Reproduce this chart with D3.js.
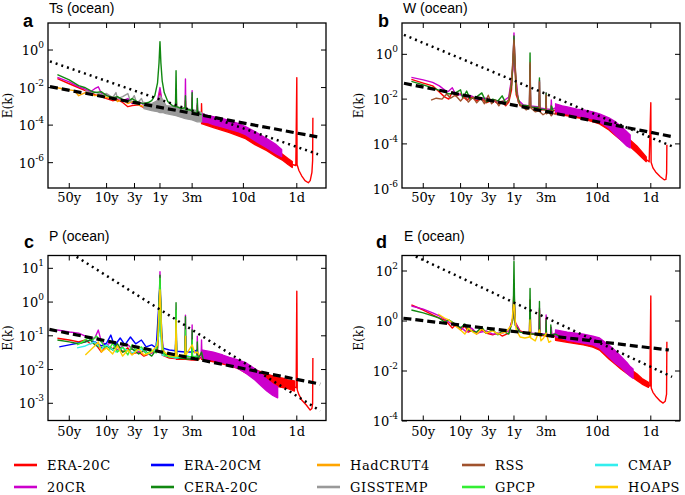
<!DOCTYPE html>
<html><head><meta charset="utf-8">
<script src="https://cdn.jsdelivr.net/npm/d3@7"></script>
<style>body{margin:0;background:#fff}svg{display:block}</style>
</head><body>
<svg id="chart" width="685" height="495"></svg>
<script>
// ---------- legend / datasets ----------
const legendNames  = ["ERA-20C","20CR","ERA-20CM","CERA-20C","HadCRUT4","GISSTEMP","RSS","GPCP","CMAP","HOAPS"];
const legendColors = ["#ff0000","#cc00cc","#0000ff","#118811","#ffa500","#999999","#a0522d","#33ee33","#33eeee","#ffcc00"];

// ---------- x axis (frequency, cycles per year) ----------
const xTickFreqs  = [0.02, 0.1, 0.3333, 1, 4, 36.5, 365];
const xTickLabels = ["50y","10y","3y","1y","3m","10d","1d"];

// ================= Panel a : Ts (ocean) =================
const aEra20c = [[0.012,3.0e-2],[0.02,1.6e-2],[0.03,9.8e-3],[0.04,6.9e-3],[0.05,5.4e-3],[0.06,4.2e-3],[0.08,3.3e-3],[0.1,2.6e-3],[0.13,2.0e-3],[0.16,2.3e-3],[0.2,1.6e-3],[0.25,9.6e-4],[0.3,1.1e-3],[0.4,1.2e-3],[0.5,8.5e-4],[0.7,9.6e-4],[0.9,1.2e-3],[1.0,6.9e-3],[1.1,9.6e-4],[1.5,6.6e-4],[1.95,6.0e-4],[2,5.4e-3],[2.05,5.9e-4],[2.95,5.2e-4],[3,2.0e-3],[3.05,5.2e-4],[3.95,4.6e-4],[4,2.9e-3],[4.05,4.1e-4],[4.95,3.6e-4],[5,1.1e-3],[5.05,3.2e-4],[5.95,2.9e-4],[6,1.4e-3],[6.1,2.5e-4]];
const aEra20cBand = [[6,1.2e-4,2.8e-4],[10,7.4e-5,1.74e-4],[20,4.0e-5,9.3e-5],[40,1.9e-5,4.5e-5],[60,9.1e-6,2.2e-5],[100,4.4e-6,1.05e-5],[150,2.1e-6,5.0e-6],[200,1.3e-6,2.7e-6],[250,7.9e-7,1.66e-6],[300,5.5e-7,1.15e-6]];
const aEra20cTail = [[300,8e-7],[350,7.1e-7],[365,3.4e-2],[369,7.9e-7],[400,3.8e-7],[450,2.0e-7],[520,1.1e-7],[600,8.5e-8],[650,1.1e-7],[700,3.0e-7],[722,1.3e-6],[730,2.5e-4]];
const aTwentyCR = [[0.012,3.5e-2],[0.02,2.0e-2],[0.03,1.1e-2],[0.04,8.2e-3],[0.05,6.0e-3],[0.06,8.7e-3],[0.07,1.1e-2],[0.08,4.8e-3],[0.1,4.2e-3],[0.13,2.6e-3],[0.16,2.9e-3],[0.2,2.0e-3],[0.25,2.6e-3],[0.3,1.4e-3],[0.4,1.8e-3],[0.5,1.2e-3],[0.6,1.1e-3],[0.8,1.2e-3],[0.9,2.0e-3],[1.0,1.0e-2],[1.1,1.6e-3],[1.3,8.5e-4],[1.95,7.6e-4],[2,8.7e-3],[2.05,6.6e-4],[2.95,6.6e-4],[3,2.9e-2],[3.05,5.2e-4],[3.95,4.6e-4],[4,6.9e-3],[4.05,4.1e-4],[4.95,3.6e-4],[5,1.4e-3],[5.1,3.2e-4],[6,2.8e-4]];
const aTwentyCRBand = [[6,1.5e-4,4.1e-4],[8,1.35e-4,3.2e-4],[10,1.07e-4,2.8e-4],[15,7.8e-5,2.2e-4],[20,6.2e-5,1.74e-4],[30,4.3e-5,1.2e-4],[40,3.1e-5,8.3e-5],[60,1.5e-5,4.5e-5],[80,9.1e-6,2.8e-5],[100,6.3e-6,1.9e-5],[150,3.0e-6,9.1e-6],[190,2.1e-6,5.0e-6]];
const aHadcrut4 = [[0.0095,1.1e-2],[0.015,8.7e-3],[0.025,6.9e-3],[0.03,3.7e-3],[0.04,5.4e-3],[0.05,4.8e-3],[0.06,3.7e-3],[0.08,4.2e-3],[0.1,2.9e-3],[0.13,3.3e-3],[0.16,1.8e-3],[0.2,2.3e-3],[0.25,1.4e-3],[0.3,1.8e-3],[0.4,1.2e-3],[0.5,9.6e-4],[0.6,1.4e-3],[0.7,8.5e-4],[0.9,9.6e-4],[1.0,2.6e-3],[1.1,8.5e-4],[1.5,6.6e-4],[2,9.6e-4],[2.5,5.2e-4],[3,7.6e-4],[4,5.2e-4]];
const aGisstemp = [[0.04,6.9e-3],[0.05,5.4e-3],[0.06,6.0e-3],[0.08,4.2e-3],[0.1,4.8e-3],[0.13,2.9e-3],[0.15,5.4e-3],[0.16,2.6e-3],[0.2,3.3e-3],[0.25,4.8e-3],[0.28,1.8e-3],[0.33,3.7e-3],[0.37,1.4e-3],[0.45,2.6e-3],[0.5,1.2e-3]];
const aGisstempBand = [[0.5,7.6e-4,1.6e-3],[0.7,5.9e-4,1.4e-3],[0.9,5.2e-4,2.0e-3],[1.0,4.6e-4,3.7e-3],[1.15,4.6e-4,2.0e-3],[1.3,4.1e-4,1.1e-3],[2,3.2e-4,9.6e-4],[3,2.2e-4,7.6e-4],[4,1.9e-4,6.6e-4],[5,1.5e-4,5.9e-4],[6,1.5e-4,4.6e-4]];
const aCera20c = [[0.012,4.9e-2],[0.02,2.6e-2],[0.03,1.26e-2],[0.04,9.8e-3],[0.05,6.9e-3],[0.06,5.4e-3],[0.08,6.0e-3],[0.1,3.7e-3],[0.13,2.9e-3],[0.16,3.3e-3],[0.2,2.3e-3],[0.25,1.8e-3],[0.3,2.6e-3],[0.4,1.6e-3],[0.5,1.4e-3],[0.6,1.6e-3],[0.7,2.0e-3],[0.8,3.7e-3],[0.9,1.8e-2],[0.96,0.21],[1.0,2.8],[1.04,0.21],[1.1,2.3e-2],[1.2,5.4e-3],[1.4,1.8e-3],[1.7,1.1e-3],[1.95,9.6e-4],[2,7.9e-2],[2.05,9.6e-4],[2.5,7.6e-4],[2.95,8.5e-4],[3,3.7e-3],[3.05,6.6e-4],[3.5,6.6e-4],[3.95,5.9e-4],[4,5.4e-3],[4.05,5.2e-4],[4.5,4.6e-4],[4.95,4.4e-4],[5,2.6e-3],[5.1,4.1e-4],[6,3.6e-4]];
const aFitDashed = [[0.0087,1.12e-2],[1000,2.2e-5]];
const aFitDotted = [[0.0087,0.248],[912,2.8e-6]];

// ================= Panel b : W (ocean) =================
const bEra20c = [[0.012,7.6e-2],[0.02,5.2e-2],[0.03,3.9e-2],[0.04,2.1e-2],[0.05,1.26e-2],[0.06,1.0e-2],[0.07,2.1e-2],[0.08,1.4e-2],[0.1,1.7e-2],[0.13,9.1e-3],[0.16,1.25e-2],[0.2,8.3e-3],[0.25,1.1e-2],[0.3,6.8e-3],[0.4,9.1e-3],[0.5,6.2e-3],[0.6,7.4e-3],[0.7,5.0e-3],[0.8,7.4e-3],[0.9,2.6e-2],[1.0,2.6],[1.1,1.55e-2],[1.3,5.0e-3],[1.6,4.5e-3],[1.95,4.5e-3],[2,0.12],[2.05,4.5e-3],[2.95,3.6e-3],[3,1.55e-2],[3.05,3.3e-3],[3.95,3.3e-3],[4,9.1e-3],[4.05,3.0e-3],[4.95,2.9e-3],[5,5.5e-3],[5.1,2.7e-3],[6,3.3e-3]];
const bEra20cBand = [[6,2.2e-3,4.1e-3],[10,1.8e-3,3.3e-3],[20,1.3e-3,2.4e-3],[40,7.8e-4,1.6e-3],[60,4.2e-4,9.6e-4],[80,2.3e-4,5.1e-4],[100,1.5e-4,3.5e-4],[150,7.4e-5,1.5e-4],[200,4.0e-5,8.1e-5],[250,2.4e-5,4.4e-5],[300,1.6e-5,2.6e-5]];
const bEra20cTail = [[300,2.0e-5],[340,1.6e-5],[365,6.9e-3],[370,1.5e-5],[400,8.5e-6],[450,5.6e-6],[550,3.4e-6],[650,2.5e-6],[700,2.6e-6],[722,5.0e-6],[730,9.1e-5]];
const bTwentyCR = [[0.012,9.3e-2],[0.02,7.2e-2],[0.03,5.6e-2],[0.04,3.9e-2],[0.05,2.6e-2],[0.055,2.1e-2],[0.06,2.3e-2],[0.07,3.2e-2],[0.08,1.7e-2],[0.1,1.55e-2],[0.13,1.25e-2],[0.16,1.4e-2],[0.2,1.0e-2],[0.3,1.1e-2],[0.4,8.3e-3],[0.6,7.4e-3],[0.8,1.25e-2],[0.95,0.2],[1.0,9.1],[1.05,0.2],[1.2,9.1e-3],[1.5,5.5e-3],[1.95,5.0e-3],[2,0.34],[2.05,5.0e-3],[2.95,4.5e-3],[3,7.2e-2],[3.05,4.0e-3],[3.95,3.6e-3],[4,1.9e-2],[4.05,3.6e-3],[4.95,3.5e-3],[5,9.1e-3],[5.1,3.6e-3],[6,4.0e-3]];
const bTwentyCRBand = [[6,2.7e-3,6.2e-3],[8,2.4e-3,5.0e-3],[10,2.2e-3,4.5e-3],[15,1.8e-3,3.6e-3],[20,1.6e-3,3.3e-3],[30,1.3e-3,2.7e-3],[40,9.6e-4,2.2e-3],[60,5.1e-4,1.45e-3],[80,2.5e-4,9.6e-4],[100,1.5e-4,6.3e-4],[130,8.1e-5,3.5e-4],[150,6.6e-5,2.5e-4]];
const bCera20c = [[0.012,6.2e-2],[0.02,4.3e-2],[0.03,3.2e-2],[0.04,2.45e-2],[0.05,2.1e-2],[0.06,1.7e-2],[0.08,1.9e-2],[0.1,2.6e-2],[0.11,1.1e-2],[0.13,2.3e-2],[0.15,1.0e-2],[0.2,1.26e-2],[0.25,1.9e-2],[0.3,7.4e-3],[0.4,1.0e-2],[0.5,8.3e-3],[0.6,1.4e-2],[0.7,6.8e-3],[0.8,9.1e-3],[0.9,4.3e-2],[0.96,0.56],[1.0,6.6],[1.04,0.56],[1.1,2.3e-2],[1.3,5.5e-3],[1.95,5.0e-3],[2,1.15],[2.05,4.5e-3],[2.95,4.1e-3],[3,8.9e-2],[3.05,3.6e-3],[3.95,3.3e-3],[4,1.9e-2],[4.05,3.0e-3],[4.95,3.3e-3],[5,5.0e-3],[5.5,2.9e-3]];
const bRss = [[0.028,9.1e-3],[0.035,1.1e-2],[0.045,1.0e-2],[0.055,1.7e-2],[0.065,1.1e-2],[0.08,1.5e-2],[0.1,8.3e-3],[0.12,1.4e-2],[0.14,7.4e-3],[0.17,1.25e-2],[0.2,6.8e-3],[0.24,1.1e-2],[0.28,6.2e-3],[0.33,1.5e-2],[0.38,6.2e-3],[0.45,9.1e-3],[0.52,5.0e-3],[0.6,8.3e-3],[0.7,5.5e-3],[0.8,1.0e-2],[0.88,4.3e-2],[0.94,0.34],[0.98,1.9],[1.0,4.4],[1.02,1.9],[1.06,0.25],[1.12,3.2e-2],[1.2,7.4e-3],[1.4,5.0e-3],[1.7,3.3e-3],[1.95,4.1e-3],[2,0.42],[2.05,4.1e-3],[2.5,2.7e-3],[2.95,3.0e-3],[3,5.9e-2],[3.05,2.7e-3],[3.5,2.0e-3],[3.95,2.4e-3],[4,1.5e-2],[4.05,2.2e-3],[4.5,2.7e-3],[5,1.8e-3],[5.5,2.4e-3],[6,2.0e-3]];
const bFitDashed = [[0.0087,5.1e-2],[933,2.1e-4]];
const bFitDotted = [[0.0087,7.4],[933,7.6e-5]];

// ================= Panel c : P (ocean) =================
const cEra20c = [[0.012,8.5e-2],[0.02,7.5e-2],[0.03,6.6e-2],[0.04,7.5e-2],[0.05,5.8e-2],[0.06,6.6e-2],[0.07,4.4e-2],[0.08,3.3e-2],[0.1,5.4e-2],[0.13,4.1e-2],[0.16,5.0e-2],[0.2,3.3e-2],[0.25,4.4e-2],[0.3,2.9e-2],[0.4,3.3e-2],[0.5,2.5e-2],[0.7,3.1e-2],[0.9,3.8e-2],[1.0,1.15],[1.1,2.7e-2],[1.5,2.2e-2],[1.95,2.1e-2],[2,0.29],[2.05,2.0e-2],[2.95,2.0e-2],[3,9.8e-2],[3.05,2.0e-2],[3.95,1.9e-2],[4,7.5e-2],[4.05,1.9e-2],[4.95,1.9e-2],[5,3.8e-2],[5.1,1.9e-2],[6,2.4e-2]];
const cEra20cBand = [[6,2.0e-2,3.3e-2],[10,1.7e-2,2.9e-2],[20,1.3e-2,2.1e-2],[30,1.05e-2,1.6e-2],[40,7.9e-3,1.2e-2],[60,6.0e-3,9.8e-3],[80,4.9e-3,8.5e-3],[100,4.3e-3,7.4e-3],[150,3.2e-3,6.0e-3],[200,2.9e-3,5.6e-3],[250,2.7e-3,4.9e-3],[330,2.3e-3,4.6e-3]];
const cEra20cTail = [[330,3.0e-3],[355,2.9e-3],[365,2.1],[372,2.5e-3],[400,1.8e-3],[450,1.26e-3],[550,8.9e-4],[650,6.3e-4],[700,7.0e-4],[722,1.0e-3],[730,2.2e-2]];
const cTwentyCR = [[0.012,0.148],[0.02,0.13],[0.03,0.12],[0.04,9.8e-2],[0.05,8.5e-2],[0.06,8.5e-2],[0.07,0.148],[0.08,6.6e-2],[0.1,5.4e-2],[0.13,6.6e-2],[0.16,3.8e-2],[0.2,5.0e-2],[0.25,5.4e-2],[0.3,4.1e-2],[0.4,3.3e-2],[0.5,3.5e-2],[0.6,2.9e-2],[0.8,3.3e-2],[0.95,0.148],[1.0,7.9],[1.05,0.148],[1.2,2.7e-2],[1.5,2.4e-2],[1.95,2.4e-2],[2,0.58],[2.05,2.2e-2],[2.95,2.4e-2],[3,0.41],[3.05,2.2e-2],[3.95,2.2e-2],[4,0.21],[4.05,2.2e-2],[4.95,2.5e-2],[5,9.8e-2],[5.1,2.5e-2],[5.9,2.7e-2],[6,7.5e-2],[6.1,2.9e-2]];
const cTwentyCRBand = [[6,2.2e-2,3.8e-2],[8,2.0e-2,3.5e-2],[10,1.9e-2,3.3e-2],[15,1.6e-2,2.7e-2],[20,1.4e-2,2.3e-2],[30,1.05e-2,1.9e-2],[40,7.9e-3,1.6e-2],[60,4.9e-3,1.05e-2],[80,3.2e-3,7.4e-3],[100,2.3e-3,5.2e-3],[130,1.7e-3,3.7e-3],[160,1.45e-3,3.1e-3]];
const cEra20cm = [[0.013,4.7e-2],[0.02,5.4e-2],[0.03,6.1e-2],[0.04,6.6e-2],[0.05,7.5e-2],[0.06,6.6e-2],[0.08,5.0e-2],[0.1,6.1e-2],[0.12,0.105],[0.14,5.0e-2],[0.18,8.6e-2],[0.22,5.4e-2],[0.28,9.2e-2],[0.35,5.8e-2],[0.45,7.5e-2],[0.55,4.7e-2],[0.7,5.4e-2],[0.85,4.4e-2],[1.0,3.2],[1.1,4.4e-2],[1.5,3.8e-2],[1.95,3.6e-2],[2,0.148],[2.05,3.5e-2],[2.95,3.3e-2],[3,9.8e-2],[3.05,3.3e-2],[3.95,3.3e-2],[4,5.0e-2],[4.05,3.3e-2],[5,3.8e-2]];
const cCera20c = [[0.012,7.5e-2],[0.02,6.6e-2],[0.03,5.8e-2],[0.04,6.6e-2],[0.05,7.5e-2],[0.06,5.4e-2],[0.08,4.4e-2],[0.1,5.0e-2],[0.13,3.8e-2],[0.16,5.8e-2],[0.2,3.3e-2],[0.3,4.1e-2],[0.4,2.9e-2],[0.5,3.8e-2],[0.7,2.5e-2],[0.9,4.4e-2],[1.0,6.3],[1.1,3.3e-2],[1.5,2.4e-2],[1.95,2.3e-2],[2,0.95],[2.05,2.2e-2],[2.95,2.1e-2],[3,0.37],[3.05,2.05e-2],[3.95,2.05e-2],[4,0.15],[4.05,2.05e-2],[4.95,2.0e-2],[5,6.6e-2],[5.1,1.9e-2],[6,3.3e-2],[6.5,1.9e-2]];
const cCmap = [[0.028,4.4e-2],[0.04,5.0e-2],[0.06,6.6e-2],[0.08,4.1e-2],[0.1,5.4e-2],[0.15,3.3e-2],[0.2,4.4e-2],[0.3,3.1e-2],[0.45,4.1e-2],[0.6,2.9e-2],[0.8,3.8e-2],[0.95,9.8e-2],[1.0,2.3],[1.05,7.5e-2],[1.1,2.7e-2],[1.95,2.2e-2],[2,0.148],[2.05,2.2e-2],[3,2.7e-2],[4,2.2e-2],[5,2.5e-2]];
const cGpcp = [[0.028,5.4e-2],[0.035,6.6e-2],[0.045,8.5e-2],[0.055,7.5e-2],[0.065,9.8e-2],[0.075,7.5e-2],[0.09,5.0e-2],[0.11,3.8e-2],[0.13,6.1e-2],[0.16,3.3e-2],[0.2,4.7e-2],[0.25,2.7e-2],[0.3,5.4e-2],[0.35,3.8e-2],[0.45,4.7e-2],[0.55,2.9e-2],[0.7,3.8e-2],[0.85,3.1e-2],[0.95,0.148],[1.0,5.1],[1.05,9.8e-2],[1.2,2.7e-2],[1.5,2.4e-2],[1.95,2.4e-2],[2,0.58],[2.05,2.4e-2],[2.95,2.4e-2],[3,0.148],[3.05,2.4e-2],[3.95,2.4e-2],[4,7.5e-2],[4.05,2.4e-2],[5,2.5e-2]];
const cHoaps = [[0.04,2.7e-2],[0.05,3.8e-2],[0.06,5.0e-2],[0.07,6.6e-2],[0.08,3.3e-2],[0.1,4.4e-2],[0.13,2.9e-2],[0.16,5.0e-2],[0.2,2.5e-2],[0.25,3.8e-2],[0.3,2.7e-2],[0.4,4.1e-2],[0.5,2.7e-2],[0.7,3.3e-2],[0.9,5.4e-2],[1.0,2.3],[1.1,3.8e-2],[1.5,2.5e-2],[1.95,2.5e-2],[2,0.29],[2.05,2.5e-2],[2.95,2.7e-2],[3,9.8e-2],[3.05,2.7e-2],[4,5.4e-2],[4.5,3.1e-2],[5,3.3e-2],[5.5,2.7e-2]];
const cFitDashed = [[0.0085,0.155],[1000,3.7e-3]];
const cFitDotted = [[0.0275,21.9],[1000,6.0e-4]];

// ================= Panel d : E (ocean) =================
const dEra20c = [[0.012,4.4],[0.02,2.75],[0.03,1.74],[0.04,1.3],[0.05,1.1],[0.06,0.76],[0.07,0.52],[0.08,0.69],[0.1,0.44],[0.12,0.63],[0.14,0.36],[0.17,0.44],[0.2,0.30],[0.25,0.44],[0.3,0.33],[0.4,0.28],[0.5,0.33],[0.6,0.25],[0.8,0.33],[0.95,1.3],[1.0,20],[1.05,0.91],[1.3,0.40],[1.95,0.30],[2,7.0],[2.05,0.30],[2.95,0.28],[3,2.75],[3.05,0.28],[3.95,0.25],[4,1.3],[4.05,0.25],[4.95,0.25],[5,0.44],[5.1,0.23],[6,0.25]];
const dEra20cBand = [[6,0.17,0.33],[10,0.14,0.27],[20,0.11,0.23],[30,0.09,0.17],[40,0.069,0.13],[60,0.030,0.062],[80,0.018,0.038],[100,0.012,0.025],[130,8.0e-3,0.015],[150,6.5e-3,0.012],[200,4.2e-3,7.8e-3],[250,3.0e-3,5.0e-3],[330,2.2e-3,3.5e-3]];
const dEra20cTail = [[330,2.7e-3],[350,2.5e-3],[365,10],[372,2.1e-3],[400,1.4e-3],[450,9.8e-4],[550,6.2e-4],[620,5.2e-4],[680,6.2e-4],[720,1.2e-3],[730,0.148]];
const dTwentyCR = [[0.012,4.0],[0.02,3.0],[0.03,2.1],[0.04,1.6],[0.05,1.2],[0.06,0.91],[0.07,0.76],[0.08,0.63],[0.1,0.57],[0.13,0.36],[0.16,0.52],[0.2,0.33],[0.3,0.40],[0.4,0.30],[0.6,0.33],[0.8,0.40],[0.95,1.3],[1.0,7.0],[1.05,0.91],[1.3,0.36],[1.95,0.33],[2,4.4],[2.05,0.33],[2.95,0.30],[3,3.3],[3.05,0.30],[3.95,0.30],[4,1.74],[4.05,0.30],[4.95,0.28],[5,0.57],[5.1,0.28],[6,0.33]];
const dTwentyCRBand = [[6,0.23,0.44],[10,0.17,0.36],[20,0.13,0.30],[30,0.11,0.25],[40,0.083,0.21],[60,0.036,0.11],[80,0.020,0.063],[100,0.014,0.039],[130,8.1e-3,0.022],[150,6.2e-3,0.015],[170,5.1e-3,0.012]];
const dCera20c = [[0.012,2.75],[0.02,2.1],[0.03,1.6],[0.04,1.3],[0.05,0.91],[0.06,1.1],[0.08,0.76],[0.1,0.52],[0.12,0.76],[0.14,0.44],[0.2,0.36],[0.25,0.57],[0.3,0.33],[0.4,0.44],[0.5,0.28],[0.6,0.40],[0.8,0.30],[0.95,1.1],[0.98,11],[1.0,240],[1.02,11],[1.05,0.69],[1.3,0.36],[1.95,0.30],[2,20],[2.05,0.30],[2.95,0.30],[3,6.0],[3.05,0.30],[3.95,0.28],[4,1.1],[4.05,0.28],[4.85,0.28],[4.9,0.69],[4.95,0.28],[6,0.30],[7,0.25]];
const dHoaps = [[0.038,1.9],[0.05,1.3],[0.06,1.1],[0.07,0.83],[0.08,0.63],[0.1,0.44],[0.12,0.30],[0.14,0.52],[0.17,0.36],[0.2,0.30],[0.25,0.48],[0.3,0.33],[0.4,0.40],[0.5,0.30],[0.7,0.36],[0.9,0.69],[0.96,2.75],[1.0,5.1],[1.04,1.6],[1.1,0.44],[1.3,0.23],[1.6,0.21],[1.95,0.23],[2,1.1],[2.05,0.21],[2.5,0.16],[3,0.44],[3.2,0.16],[3.6,0.21],[4,0.33],[4.5,0.14],[5,0.16]];
const dFitDashed = [[0.0085,1.29],[794,0.069]];
const dFitDotted = [[0.0145,380],[912,5.8e-3]];

// ---------- panel layout ----------
const panels = [
  {letter:"a", title:"Ts (ocean)", x0:48,  y0:23,    y1:188,   yExp:[-7.35,1.44], yTickExp:[0,-2,-4,-6],
   letterPos:[23,27], titlePos:[49,13], ylabX:12, xlabY:202,
   layers:[["ERA-20C","band",aEra20cBand],["ERA-20C","line",aEra20c],["ERA-20C","line",aEra20cTail],
           ["20CR","band",aTwentyCRBand],["20CR","line",aTwentyCR],["HadCRUT4","line",aHadcrut4],
           ["GISSTEMP","line",aGisstemp],["GISSTEMP","band",aGisstempBand],["CERA-20C","line",aCera20c]],
   fits:[aFitDashed,aFitDotted]},
  {letter:"b", title:"W (ocean)", x0:402, y0:23,    y1:188,   yExp:[-5.97,1.40], yTickExp:[0,-2,-4,-6],
   letterPos:[378,27], titlePos:[403,13], ylabX:363, xlabY:202,
   layers:[["ERA-20C","band",bEra20cBand],["ERA-20C","line",bEra20c],["ERA-20C","line",bEra20cTail],
           ["20CR","band",bTwentyCRBand],["20CR","line",bTwentyCR],["CERA-20C","line",bCera20c],["RSS","line",bRss]],
   fits:[bFitDashed,bFitDotted]},
  {letter:"c", title:"P (ocean)", x0:48,  y0:255.5, y1:420.5, yExp:[-3.51,1.38], yTickExp:[1,0,-1,-2,-3],
   letterPos:[24,248], titlePos:[49,241], ylabX:12, xlabY:436,
   layers:[["ERA-20C","band",cEra20cBand],["ERA-20C","line",cEra20c],["ERA-20C","line",cEra20cTail],
           ["20CR","band",cTwentyCRBand],["20CR","line",cTwentyCR],["ERA-20CM","line",cEra20cm],
           ["CERA-20C","line",cCera20c],["CMAP","line",cCmap],["GPCP","line",cGpcp],["HOAPS","line",cHoaps]],
   fits:[cFitDashed,cFitDotted]},
  {letter:"d", title:"E (ocean)", x0:402, y0:255.5, y1:420.5, yExp:[-3.98,2.62], yTickExp:[2,0,-2,-4],
   letterPos:[376,248], titlePos:[404,241], ylabX:363, xlabY:436,
   layers:[["ERA-20C","band",dEra20cBand],["ERA-20C","line",dEra20c],["ERA-20C","line",dEra20cTail],
           ["20CR","band",dTwentyCRBand],["20CR","line",dTwentyCR],["CERA-20C","line",dCera20c],["HOAPS","line",dHoaps]],
   fits:[dFitDashed,dFitDotted]}
];

const PW = 278;
const color = d3.scaleOrdinal().domain(legendNames).range(legendColors);
const svg = d3.select("#chart");
const SERIF = "'DejaVu Serif', 'Liberation Serif', serif";
const SANS = "'Liberation Sans', Arial, sans-serif";

panels.forEach((p, i) => {
  const x = d3.scaleLog().domain([Math.pow(10,-2.097), Math.pow(10,3.109)]).range([p.x0, p.x0 + PW]);
  const y = d3.scaleLog().domain([Math.pow(10,p.yExp[0]), Math.pow(10,p.yExp[1])]).range([p.y1, p.y0]);
  const g = svg.append("g");
  const clipId = "clip" + i;
  svg.append("clipPath").attr("id", clipId).append("rect")
     .attr("x", p.x0).attr("y", p.y0).attr("width", PW).attr("height", p.y1 - p.y0);
  const plot = g.append("g").attr("clip-path", `url(#${clipId})`);

  const line = d3.line().x(d => x(d[0])).y(d => y(d[1]));
  const area = d3.area().x(d => x(d[0])).y0(d => y(d[1])).y1(d => y(d[2]));

  p.layers.forEach(([name, kind, data]) => {
    const c = color(name);
    if (kind === "band") {
      plot.append("path").datum(data).attr("d", area)
        .attr("fill", c).attr("stroke", c).attr("stroke-width", 1.3).attr("stroke-linejoin", "round");
    } else {
      plot.append("path").datum(data).attr("d", line)
        .attr("fill", "none").attr("stroke", c).attr("stroke-width", 1.4).attr("stroke-linejoin", "round");
    }
  });

  // fitted power laws
  plot.append("path").datum(p.fits[0]).attr("d", line).attr("fill", "none")
      .attr("stroke", "#000").attr("stroke-width", 3.2).attr("stroke-dasharray", "8,4");
  plot.append("path").datum(p.fits[1]).attr("d", line).attr("fill", "none")
      .attr("stroke", "#000").attr("stroke-width", 2.5).attr("stroke-dasharray", "2,4");

  // frame
  g.append("rect").attr("x", p.x0).attr("y", p.y0).attr("width", PW).attr("height", p.y1 - p.y0)
   .attr("fill", "none").attr("stroke", "#000").attr("stroke-width", 1.3);

  // x ticks (inward on top and bottom) + labels
  const TL = 5;
  xTickFreqs.forEach((f, k) => {
    const xx = x(f);
    g.append("line").attr("x1", xx).attr("x2", xx).attr("y1", p.y1).attr("y2", p.y1 - TL).attr("stroke", "#000");
    g.append("line").attr("x1", xx).attr("x2", xx).attr("y1", p.y0).attr("y2", p.y0 + TL).attr("stroke", "#000");
    g.append("text").attr("x", xx).attr("y", p.xlabY).attr("text-anchor", "middle")
      .attr("font-family", SERIF).attr("font-size", 13).text(xTickLabels[k]);
  });

  // y ticks + labels
  p.yTickExp.forEach(e => {
    const yy = y(Math.pow(10, e));
    if (yy >= p.y0 - 0.5 && yy <= p.y1 + 0.5) {
      g.append("line").attr("x1", p.x0).attr("x2", p.x0 + TL).attr("y1", yy).attr("y2", yy).attr("stroke", "#000");
      g.append("line").attr("x1", p.x0 + PW).attr("x2", p.x0 + PW - TL).attr("y1", yy).attr("y2", yy).attr("stroke", "#000");
    }
    const t = g.append("text").attr("x", p.x0 - 4).attr("y", yy + 5).attr("text-anchor", "end")
      .attr("font-family", SERIF).attr("font-size", 13);
    t.append("tspan").text("10");
    t.append("tspan").attr("dy", -7).attr("font-size", 9).text(String(e));
  });

  // y axis label
  const cy = (p.y0 + p.y1) / 2;
  g.append("text").attr("transform", `translate(${p.ylabX},${cy}) rotate(-90)`).attr("text-anchor", "middle")
   .attr("font-family", SERIF).attr("font-size", 12).text("E(k)");

  // panel letter and title
  g.append("text").attr("x", p.letterPos[0]).attr("y", p.letterPos[1])
   .attr("font-family", SANS).attr("font-weight", "bold").attr("font-size", 18).text(p.letter);
  g.append("text").attr("x", p.titlePos[0]).attr("y", p.titlePos[1])
   .attr("font-family", SANS).attr("font-size", 14).text(p.title);
});

// legend: 5 columns x 2 rows
const legCols = [14, 151, 317, 462, 595];
const legRows = [465, 487];
legendNames.forEach((name, k) => {
  const col = Math.floor(k / 2), row = k % 2;
  const lx = legCols[col], ly = legRows[row];
  svg.append("line").attr("x1", lx).attr("x2", lx + 23).attr("y1", ly).attr("y2", ly)
     .attr("stroke", color(name)).attr("stroke-width", 2.6);
  svg.append("text").attr("x", lx + 33).attr("y", ly + 5).attr("font-family", SERIF)
     .attr("font-size", 13).attr("letter-spacing", 0.6).text(name);
});
</script>
</body></html>
